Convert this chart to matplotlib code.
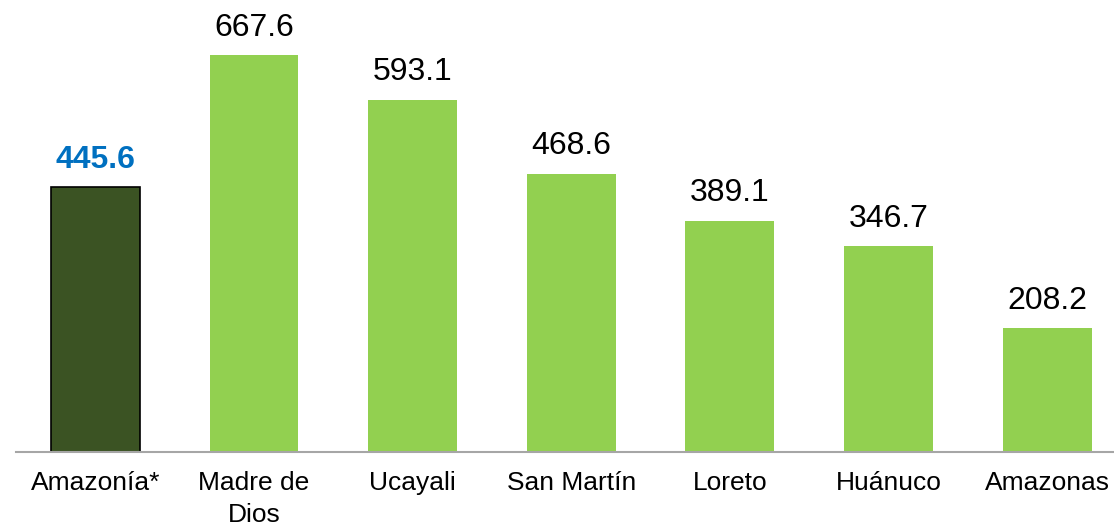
import numpy as np
import matplotlib
matplotlib.use("Agg")
import matplotlib.pyplot as plt

# Data
regions = ["Amazonía*", "Madre de\nDios", "Ucayali", "San Martín",
           "Loreto", "Huánuco", "Amazonas"]
values = [445.6, 667.6, 593.1, 468.6, 389.1, 346.7, 208.2]

plt.rcParams['font.family'] = ['Liberation Sans', 'DejaVu Sans']

fig = plt.figure(figsize=(11.14, 5.25), dpi=100)
ax = fig.add_axes([16 / 1114, 73 / 525, 1 - 16 / 1114, 452 / 525])

x = np.arange(len(regions))
colors = ["#3B5323"] + ["#92D050"] * (len(regions) - 1)
edges = ["#000000"] + ["none"] * (len(regions) - 1)
bars = ax.bar(x, values, width=0.56, color=colors, edgecolor=edges,
              linewidth=1.2, zorder=2)

# value labels above bars
for i, (b, v) in enumerate(zip(bars, values)):
    if i == 0:
        ax.annotate(f"{v:.1f}", (b.get_x() + b.get_width() / 2, v),
                    xytext=(0, 9), textcoords="offset points",
                    ha="center", va="bottom", fontsize=23,
                    fontweight="bold", color="#0070C0")
    else:
        ax.annotate(f"{v:.1f}", (b.get_x() + b.get_width() / 2, v),
                    xytext=(0, 9), textcoords="offset points",
                    ha="center", va="bottom", fontsize=23, color="black")

ax.set_xlim(-0.5, (1114 - 95.5) / 158.6)
ax.set_ylim(0, 761)
ax.set_xticks(x)
ax.set_xticklabels(regions, fontsize=19, linespacing=1.38)
ax.tick_params(axis="x", length=0, pad=14)
ax.set_yticks([])

for s in ["top", "right", "left"]:
    ax.spines[s].set_visible(False)
ax.spines["bottom"].set_color("#A6A6A6")
ax.spines["bottom"].set_linewidth(1.5)
ax.spines["bottom"].set_zorder(3)

fig.savefig("out.png", dpi=100)
